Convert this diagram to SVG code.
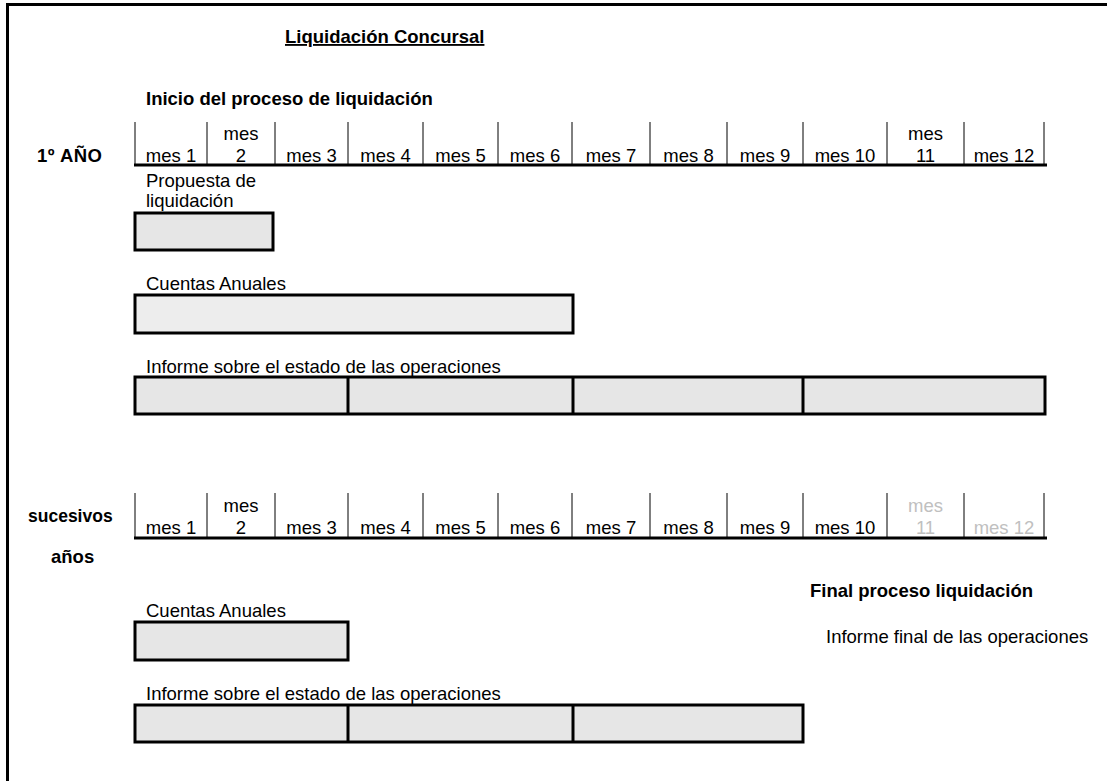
<svg xmlns="http://www.w3.org/2000/svg" width="1107" height="781" viewBox="0 0 1107 781">
<style>
text{font-family:"Liberation Sans",Arial,sans-serif;fill:#000}
.b{font-weight:bold;font-size:18.5px}
.bs{font-weight:bold;font-size:17.5px}
.r{font-size:18.5px}
.m{font-size:18.5px;text-anchor:middle}
.g{fill:#c0c0c0}
.u{text-decoration:underline}
.tick{stroke:#000;stroke-width:1}
.base{stroke:#000;stroke-width:3}
.box{fill:#e6e6e6;stroke:#000;stroke-width:3}
.box2{fill:#ededed;stroke:#000;stroke-width:3}
.div{stroke:#000;stroke-width:3}
</style>
<rect width="1107" height="781" fill="#fff"/>
<g id="frame"><path d="M7.5 781 V4.5 H1107" fill="none" stroke="#000" stroke-width="3"/></g>
<g id="title"><text class="b u" x="285" y="43">Liquidación Concursal</text></g>
<g id="inicio"><text class="b" x="146" y="105">Inicio del proceso de liquidación</text></g>
<g id="year1-label"><text class="b" x="37" y="162" textLength="65">1º AÑO</text></g>
<g id="timeline1">
<g class="tick">
<line x1="135" y1="122" x2="135" y2="165"/><line x1="207" y1="122" x2="207" y2="165"/><line x1="275" y1="122" x2="275" y2="165"/><line x1="348" y1="122" x2="348" y2="165"/><line x1="423" y1="122" x2="423" y2="165"/><line x1="498" y1="122" x2="498" y2="165"/><line x1="572" y1="122" x2="572" y2="165"/><line x1="650" y1="122" x2="650" y2="165"/><line x1="727" y1="122" x2="727" y2="165"/><line x1="803" y1="122" x2="803" y2="165"/><line x1="887" y1="122" x2="887" y2="165"/><line x1="964" y1="122" x2="964" y2="165"/><line x1="1044" y1="122" x2="1044" y2="165"/>
</g>
<line class="base" x1="134" y1="165" x2="1047" y2="165"/>
<text class="m" x="171" y="162">mes 1</text>
<text class="m" x="241" y="140">mes</text><text class="m" x="241" y="162">2</text>
<text class="m" x="311.5" y="162">mes 3</text>
<text class="m" x="385.5" y="162">mes 4</text>
<text class="m" x="460.5" y="162">mes 5</text>
<text class="m" x="535" y="162">mes 6</text>
<text class="m" x="611" y="162">mes 7</text>
<text class="m" x="688.5" y="162">mes 8</text>
<text class="m" x="765" y="162">mes 9</text>
<text class="m" x="845" y="162">mes 10</text>
<text class="m" x="925.5" y="140">mes</text><text class="m" x="925.5" y="162">11</text>
<text class="m" x="1004" y="162">mes 12</text>
</g>
<g id="propuesta">
<text class="r" x="146" y="187">Propuesta de</text>
<text class="r" x="146" y="207">liquidación</text>
<rect class="box" x="135" y="213" width="138" height="37"/>
</g>
<g id="cuentas1">
<text class="r" x="146" y="290">Cuentas Anuales</text>
<rect class="box2" x="135" y="295" width="438" height="38"/>
</g>
<g id="informe1">
<text class="r" x="146" y="373">Informe sobre el estado de las operaciones</text>
<rect class="box" x="135" y="377" width="910" height="37"/>
<line class="div" x1="348" y1="377" x2="348" y2="414"/>
<line class="div" x1="573" y1="377" x2="573" y2="414"/>
<line class="div" x1="803" y1="377" x2="803" y2="414"/>
</g>
<g id="year2-label">
<text class="bs" x="28" y="522">sucesivos</text>
<text class="b" x="51" y="563">años</text>
</g>
<g id="timeline2">
<g class="tick">
<line x1="135" y1="493" x2="135" y2="538"/><line x1="207" y1="493" x2="207" y2="538"/><line x1="275" y1="493" x2="275" y2="538"/><line x1="348" y1="493" x2="348" y2="538"/><line x1="423" y1="493" x2="423" y2="538"/><line x1="498" y1="493" x2="498" y2="538"/><line x1="572" y1="493" x2="572" y2="538"/><line x1="650" y1="493" x2="650" y2="538"/><line x1="727" y1="493" x2="727" y2="538"/><line x1="803" y1="493" x2="803" y2="538"/><line x1="887" y1="493" x2="887" y2="538"/><line x1="964" y1="493" x2="964" y2="538"/><line x1="1044" y1="493" x2="1044" y2="538"/>
</g>
<line class="base" x1="134" y1="538" x2="1047" y2="538"/>
<text class="m" x="171" y="534">mes 1</text>
<text class="m" x="241" y="512">mes</text><text class="m" x="241" y="534">2</text>
<text class="m" x="311.5" y="534">mes 3</text>
<text class="m" x="385.5" y="534">mes 4</text>
<text class="m" x="460.5" y="534">mes 5</text>
<text class="m" x="535" y="534">mes 6</text>
<text class="m" x="611" y="534">mes 7</text>
<text class="m" x="688.5" y="534">mes 8</text>
<text class="m" x="765" y="534">mes 9</text>
<text class="m" x="845" y="534">mes 10</text>
<text class="m g" x="925.5" y="512">mes</text><text class="m g" x="925.5" y="534">11</text>
<text class="m g" x="1004" y="534">mes 12</text>
</g>
<g id="final">
<text class="b" x="810" y="597">Final proceso liquidación</text>
<text class="r" x="826" y="643">Informe final de las operaciones</text>
</g>
<g id="cuentas2">
<text class="r" x="146" y="617">Cuentas Anuales</text>
<rect class="box" x="135" y="622" width="213" height="38"/>
</g>
<g id="informe2">
<text class="r" x="146" y="700">Informe sobre el estado de las operaciones</text>
<rect class="box" x="135" y="705" width="668" height="37"/>
<line class="div" x1="348" y1="705" x2="348" y2="742"/>
<line class="div" x1="573" y1="705" x2="573" y2="742"/>
</g>
<g id="connectors"/>
</svg>
